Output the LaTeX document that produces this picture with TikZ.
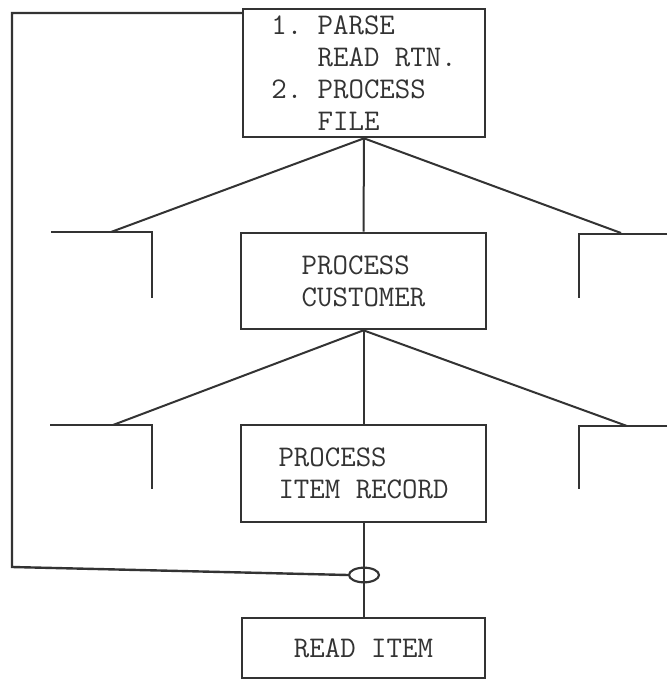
\documentclass[tikz,border=0pt]{standalone}
\usepackage{fontspec}
\usetikzlibrary{shapes.geometric}
\definecolor{ink}{gray}{0.2}
\begin{document}
\begin{tikzpicture}[x=0.75pt,y=-0.75pt,
  box/.style={draw=ink, line width=2pt, inner sep=0pt, align=left,
    font=\ttfamily\fontsize{22.5}{24}\selectfont, text=ink},
  link/.style={draw=ink, line width=1.5pt},
  stub/.style={draw=ink, line width=1.8pt},
  knotstyle/.style={ellipse, draw=ink, line width=1.6pt, inner sep=0pt,
    minimum width=22.5pt, minimum height=11pt}]
\useasboundingbox (0,0) rectangle (667,680);
\fill[white] (0,0) rectangle (667,680);

% boxes
\node[box, minimum width=181.5pt, minimum height=96pt] (top) at (364,73)
  {1.~PARSE\\\hphantom{1.~}READ RTN.\\2.~PROCESS\\\hphantom{1.~}FILE};
\node[box, minimum width=183.75pt, minimum height=72pt] (cust) at (363.5,281)
  {PROCESS\\CUSTOMER};
\node[box, minimum width=183.75pt, minimum height=72.75pt] (irec) at (363.5,473.5)
  {PROCESS\\ITEM RECORD};
\node[box, minimum width=182.25pt, minimum height=45pt] (read) at (363.5,648)
  {READ ITEM};

% partial (cut-off) boxes
\coordinate (l1) at (111,232);
\coordinate (r1) at (621,233);
\coordinate (l2) at (113,425);
\coordinate (r2) at (627,426);
\draw[stub] (51,232) -- (152,232) -- (152,298);
\draw[stub] (667,234) -- (579,234) -- (579,298);
\draw[stub] (50,425) -- (152,425) -- (152,489);
\draw[stub] (667,426) -- (579,426) -- (579,489);

% connectors
\draw[link] (top.south) -- (l1);
\draw[link] (top.south) -- (cust.north);
\draw[link] (top.south) -- (r1);
\draw[link] (cust.south) -- (l2);
\draw[link] (cust.south) -- (irec.north);
\draw[link] (cust.south) -- (r2);
\draw[link] (irec.south) -- (read.north);

% loop
\node[knotstyle] (knot) at (364,575) {};
\coordinate (loopstart) at (243,13);
\coordinate (loopa) at (12,13);
\coordinate (loopb) at (12,567);
\draw[stub] (loopstart) -- (loopa) -- (loopb) -- (knot.west);
\end{tikzpicture}
\end{document}
